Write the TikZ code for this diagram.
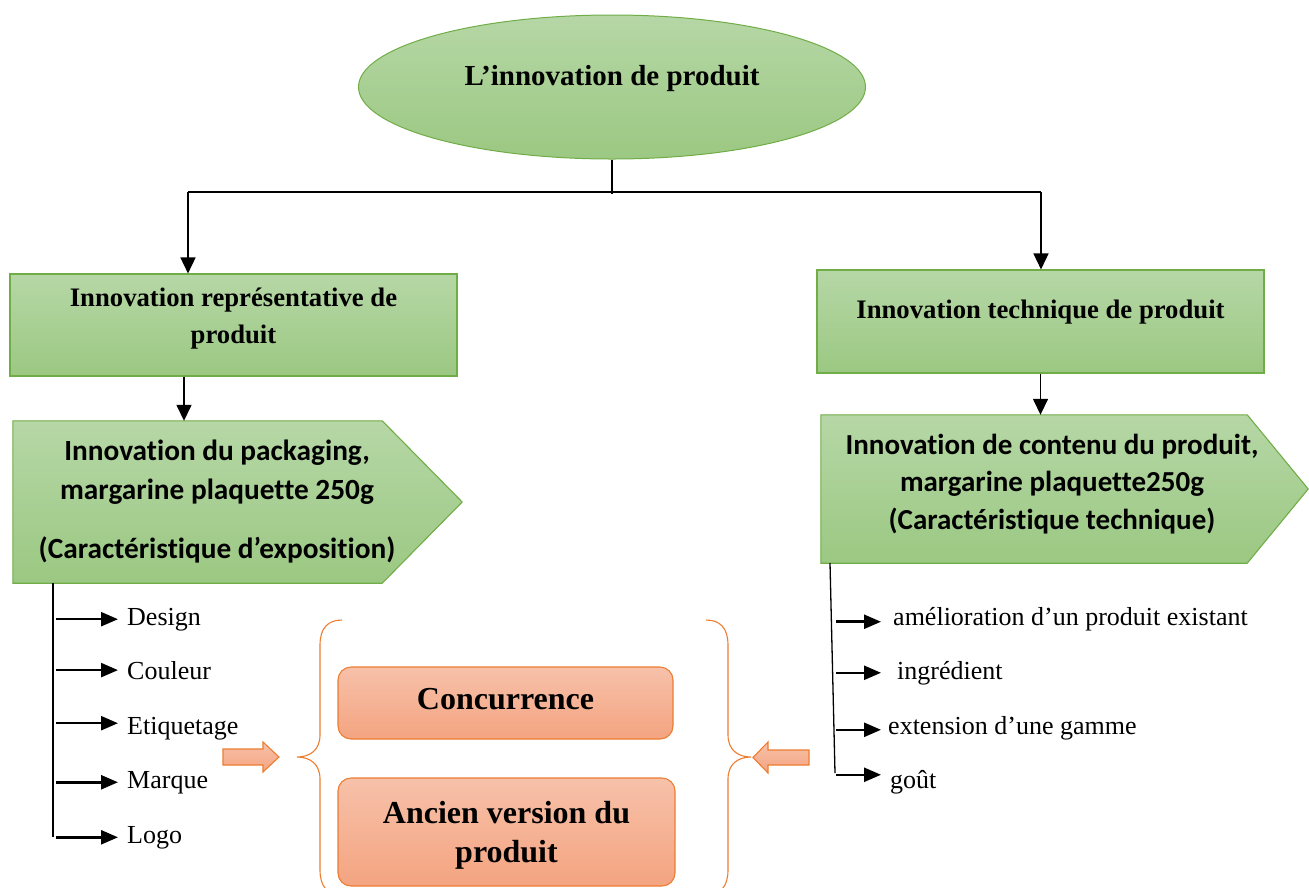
\documentclass[tikz,border=0pt]{standalone}
\usepackage{fontspec}
\setmainfont{Liberation Serif}
\newfontfamily\calib[Ligatures=NoCommon]{Carlito}
\usetikzlibrary{arrows.meta,shapes.geometric}
\definecolor{gtop}{RGB}{182,215,166}
\definecolor{gbot}{RGB}{155,200,130}
\definecolor{gline}{RGB}{112,173,71}
\definecolor{otop}{RGB}{247,193,170}
\definecolor{obot}{RGB}{244,164,128}
\definecolor{oline}{RGB}{237,125,49}
\tikzset{
  gshade/.style={draw=gline, line width=1.1pt, top color=gtop, bottom color=gbot},
  oshade/.style={draw=oline, line width=1.1pt, top color=otop, bottom color=obot},
  conn/.style={line width=1.5pt, draw=black},
  arr/.style={conn, -{Triangle[length=16pt,width=15pt]}},
  larr/.style={line width=2.5pt, -{Triangle[length=17pt,width=14pt]}},
  bracepath/.style={draw=oline, line width=1.1pt},
  boxtxt/.style={font=\bfseries\fontsize{26.7}{37}\selectfont, align=center, inner sep=0pt},
  pentxt/.style={font=\calib\bfseries\fontsize{29.3}{38.5}\selectfont, align=center, inner sep=0pt},
  otxt/.style={font=\bfseries\fontsize{32}{39}\selectfont, align=center, inner sep=0pt},
  itemtxt/.style={font=\fontsize{26}{30}\selectfont, inner sep=0pt, anchor=base west},
}
\begin{document}
\begin{tikzpicture}[x=1pt,y=-1pt]
\useasboundingbox (0,0) rectangle (1309,887);

% root ellipse
\node[gshade, ellipse, line width=1pt, minimum width=507pt, minimum height=144pt, inner sep=0pt] (root) at (612,87) {};
\node[font=\bfseries\fontsize{29}{34}\selectfont, inner sep=0pt] (roott) at ([yshift=8.5pt]root.center) {L’innovation de produit};

% level 1 boxes
\node[gshade, minimum width=447pt, minimum height=102pt, inner sep=0pt] (rep) at (233.5,325) {};
\node[boxtxt] (rept) at ([yshift=6.5pt]rep.center) {Innovation représentative de\\produit};
\node[gshade, minimum width=447pt, minimum height=103pt, inner sep=0pt] (tec) at (1040.5,321.5) {};
\node[boxtxt] (tect) at ([yshift=9pt]tec.center) {Innovation technique de produit};

% connectors from root
\coordinate (jn) at (612,192);
\coordinate (jl) at (188,192);
\coordinate (jr) at (1041,192);
\draw[conn] (root.south) -- ([yshift=-2pt]jn);
\draw[conn] (jl) -- (jr);
\draw[arr] (jl) -- (jl |- rep.north);
\draw[arr] (jr) -- (jr |- tec.north);

% pentagons
\node[minimum width=369pt, minimum height=162pt, inner sep=0pt] (pkg) at (197.5,502) {};
\path[gshade] (pkg.north west) -- (pkg.north east) -- ([xshift=80pt]pkg.east) -- (pkg.south east) -- (pkg.south west) -- cycle;
\node[pentxt] (pkgt) at ([xshift=19.5pt]pkg.center) {Innovation du packaging,\\margarine plaquette 250g\\[21pt](Caractéristique d’exposition)};

\node[minimum width=426pt, minimum height=148pt, inner sep=0pt] (cnt) at (1034,489) {};
\path[gshade] (cnt.north west) -- (cnt.north east) -- ([xshift=61pt]cnt.east) -- (cnt.south east) -- (cnt.south west) -- cycle;
\node[pentxt, font=\calib\bfseries\fontsize{29}{37.5}\selectfont] (cntt) at ([xshift=18pt,yshift=5pt]cnt.center) {Innovation de contenu du produit,\\margarine plaquette250g\\(Caractéristique technique)};

% arrows level 1 -> pentagons
\coordinate (xl) at (184,400);
\draw[arr] (xl |- rep.south) -- (xl |- pkg.north);
\draw[arr] (tec.south) -- (tec.south |- cnt.north);

% left list
\coordinate (lvt) at (53,583);
\coordinate (lvb) at (53,837);
\draw[line width=1.3pt] (lvt) -- (lvb);
\node[itemtxt] (i1) at (127,625) {Design};
\node[itemtxt] (i2) at (127,679) {Couleur};
\node[itemtxt] (i3) at (127,734) {Etiquetage};
\node[itemtxt] (i4) at (127,788) {Marque};
\node[itemtxt] (i5) at (127,843) {Logo};
\coordinate (lx) at (56,700);
\path ([yshift=5pt]i3.west) coordinate (i3w);
\draw[larr] (lx |- i1.west) -- ([xshift=-9pt]i1.west);
\draw[larr] (lx |- i2.west) -- ([xshift=-9pt]i2.west);
\draw[larr] (lx |- i3w) -- ([xshift=-9pt]i3w);
\draw[larr] (lx |- i4.west) -- ([xshift=-9pt]i4.west);
\draw[larr] (lx |- i5.west) -- ([xshift=-9pt]i5.west);

% right list
\coordinate (rvt) at (830,563);
\coordinate (rvb) at (835,773);
\draw[line width=1.3pt] (rvt) -- (rvb);
\node[itemtxt] (r1) at (893,625) {amélioration d’un produit existant};
\node[itemtxt] (r2) at (897,679) {ingrédient};
\node[itemtxt] (r3) at (888,734) {extension d’une gamme};
\node[itemtxt] (r4) at (890,788) {goût};
\coordinate (rs) at (836,700);
\coordinate (rt) at (881,700);
\path ([yshift=-3pt]r1.west) coordinate (r1w);
\path ([yshift=-2pt]r3.west) coordinate (r3w);
\path ([yshift=7pt]r4.west) coordinate (r4w);
\draw[larr] (rs |- r1w) -- (rt |- r1w);
\draw[larr] (rs |- r2.west) -- (rt |- r2.west);
\draw[larr] (rs |- r3w) -- (rt |- r3w);
\draw[larr] (rs |- r4w) -- (rt |- r4w);

% orange boxes
\node[oshade, rounded corners=13pt, minimum width=335pt, minimum height=72pt, inner sep=0pt] (conc) at (505.5,703) {};
\node[otxt] (conct) at ([yshift=3.5pt]conc.center) {Concurrence};
\node[oshade, rounded corners=13pt, minimum width=337pt, minimum height=108pt, inner sep=0pt] (anc) at (506.5,832) {};
\node[otxt] (anct) at ([yshift=-3pt]anc.center) {Ancien version du\\produit};

% braces
\draw[bracepath] (342,620) .. controls (328,620) and (320,628) .. (320,645) -- (320,735)
  .. controls (320,750) and (310,757) .. (297,757)
  .. controls (310,757) and (320,764) .. (320,779) -- (320,870)
  .. controls (320,887) and (328,895) .. (342,895);
\draw[bracepath] (706,620) .. controls (720,620) and (728,628) .. (728,645) -- (728,735)
  .. controls (728,750) and (738,757) .. (751,757)
  .. controls (738,757) and (728,764) .. (728,779) -- (728,870)
  .. controls (728,887) and (720,895) .. (706,895);

% block arrows
\path[oshade] (223,749) -- (263,749) -- (263,742) -- (279,757) -- (263,772) -- (263,765) -- (223,765) -- cycle;
\path[oshade] (809,750) -- (768,750) -- (768,742) -- (753,757.5) -- (768,773) -- (768,765) -- (809,765) -- cycle;
\end{tikzpicture}
\end{document}
